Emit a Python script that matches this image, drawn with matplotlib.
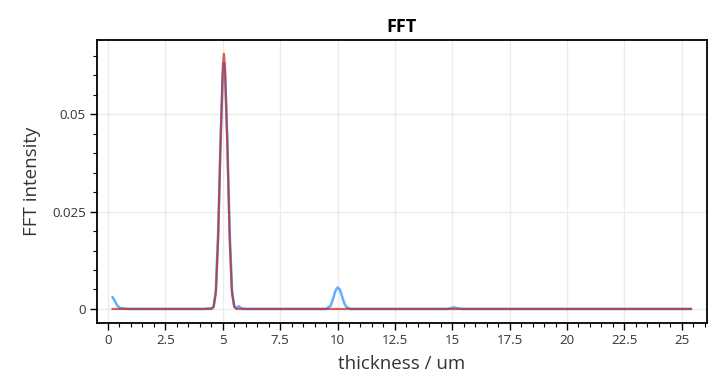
import matplotlib
matplotlib.use("Agg")
import matplotlib.pyplot as plt
from matplotlib.ticker import MultipleLocator, FuncFormatter

plt.rcParams['font.family'] = ['Open Sans', 'DejaVu Sans']

# Measured spectrum (blue)
blue_x = [0.2, 0.3, 0.4, 0.5, 0.7, 1.0, 4.2, 4.4, 4.5, 4.6, 4.7, 4.8, 4.9, 5.0, 5.05,
          5.1, 5.2, 5.3, 5.4, 5.5, 5.6, 5.7, 5.8, 6.0, 9.5, 9.7, 9.8, 9.9, 10.0, 10.1,
          10.2, 10.3, 10.4, 10.6, 14.8, 15.0, 15.1, 15.2, 15.4, 25.4]
blue_y = [0.0030, 0.0020, 0.0009, 0.0003, 0.0001, 0.0, 0.0, 0.0002, 0.0001, 0.0006,
          0.0050, 0.0200, 0.0420, 0.0600, 0.0630, 0.0600, 0.0430, 0.0200, 0.0050, 0.0008,
          0.0002, 0.0007, 0.0002, 0.0, 0.0, 0.0008, 0.0025, 0.0045, 0.0055, 0.0050,
          0.0032, 0.0014, 0.0004, 0.0, 0.0, 0.0003, 0.0004, 0.0002, 0.0, 0.0]

# Fitted peak (red)
red_x = [0.2, 4.5, 4.6, 4.7, 4.8, 4.9, 5.0, 5.05, 5.1, 5.2, 5.3, 5.4, 5.5, 5.6, 25.4]
red_y = [0.0, 0.0, 0.0005, 0.0040, 0.0180, 0.0420, 0.0620, 0.0655, 0.0620, 0.0420,
         0.0180, 0.0040, 0.0005, 0.0, 0.0]

x_ticks = [0, 2.5, 5, 7.5, 10, 12.5, 15, 17.5, 20, 22.5, 25]
y_ticks = [0, 0.025, 0.05]

fig = plt.figure(figsize=(7.17, 3.89), dpi=100)
ax = fig.add_axes([0.1353, 0.1697, 0.986 - 0.1353, 0.897 - 0.1697])

ax.plot(blue_x, blue_y, color='#3A9BFF', lw=1.8, alpha=0.8, zorder=3)
ax.plot(red_x, red_y, color='#C81E1E', lw=1.6, alpha=0.7, zorder=4)

ax.set_xlim(-0.48, 26.1)
ax.set_ylim(-0.0036, 0.069)
ax.set_xticks(x_ticks)
ax.set_yticks(y_ticks)
ax.xaxis.set_minor_locator(MultipleLocator(0.5))
ax.yaxis.set_minor_locator(MultipleLocator(0.005))

def fmt(v, pos):
    return '%g' % v
ax.xaxis.set_major_formatter(FuncFormatter(fmt))
ax.yaxis.set_major_formatter(FuncFormatter(fmt))

ax.grid(True, which='major', color='#EBEBEB', lw=1.0, zorder=0)
ax.set_axisbelow(True)

for s in ax.spines.values():
    s.set_linewidth(1.3)
    s.set_color('black')

ax.tick_params(which='major', direction='out', length=5, width=1.0, color='black',
               labelsize=9.5, labelcolor='#333333', pad=3)
ax.tick_params(which='minor', direction='out', length=3, width=0.8, color='black')

ax.set_title('FFT', fontsize=13, fontweight='bold', pad=6)
ax.set_xlabel('thickness / um', fontsize=13.5, color='#333333', labelpad=6)
ax.set_ylabel('FFT intensity', fontsize=13.5, color='#333333', labelpad=8)

fig.savefig('out.png', dpi=100)
